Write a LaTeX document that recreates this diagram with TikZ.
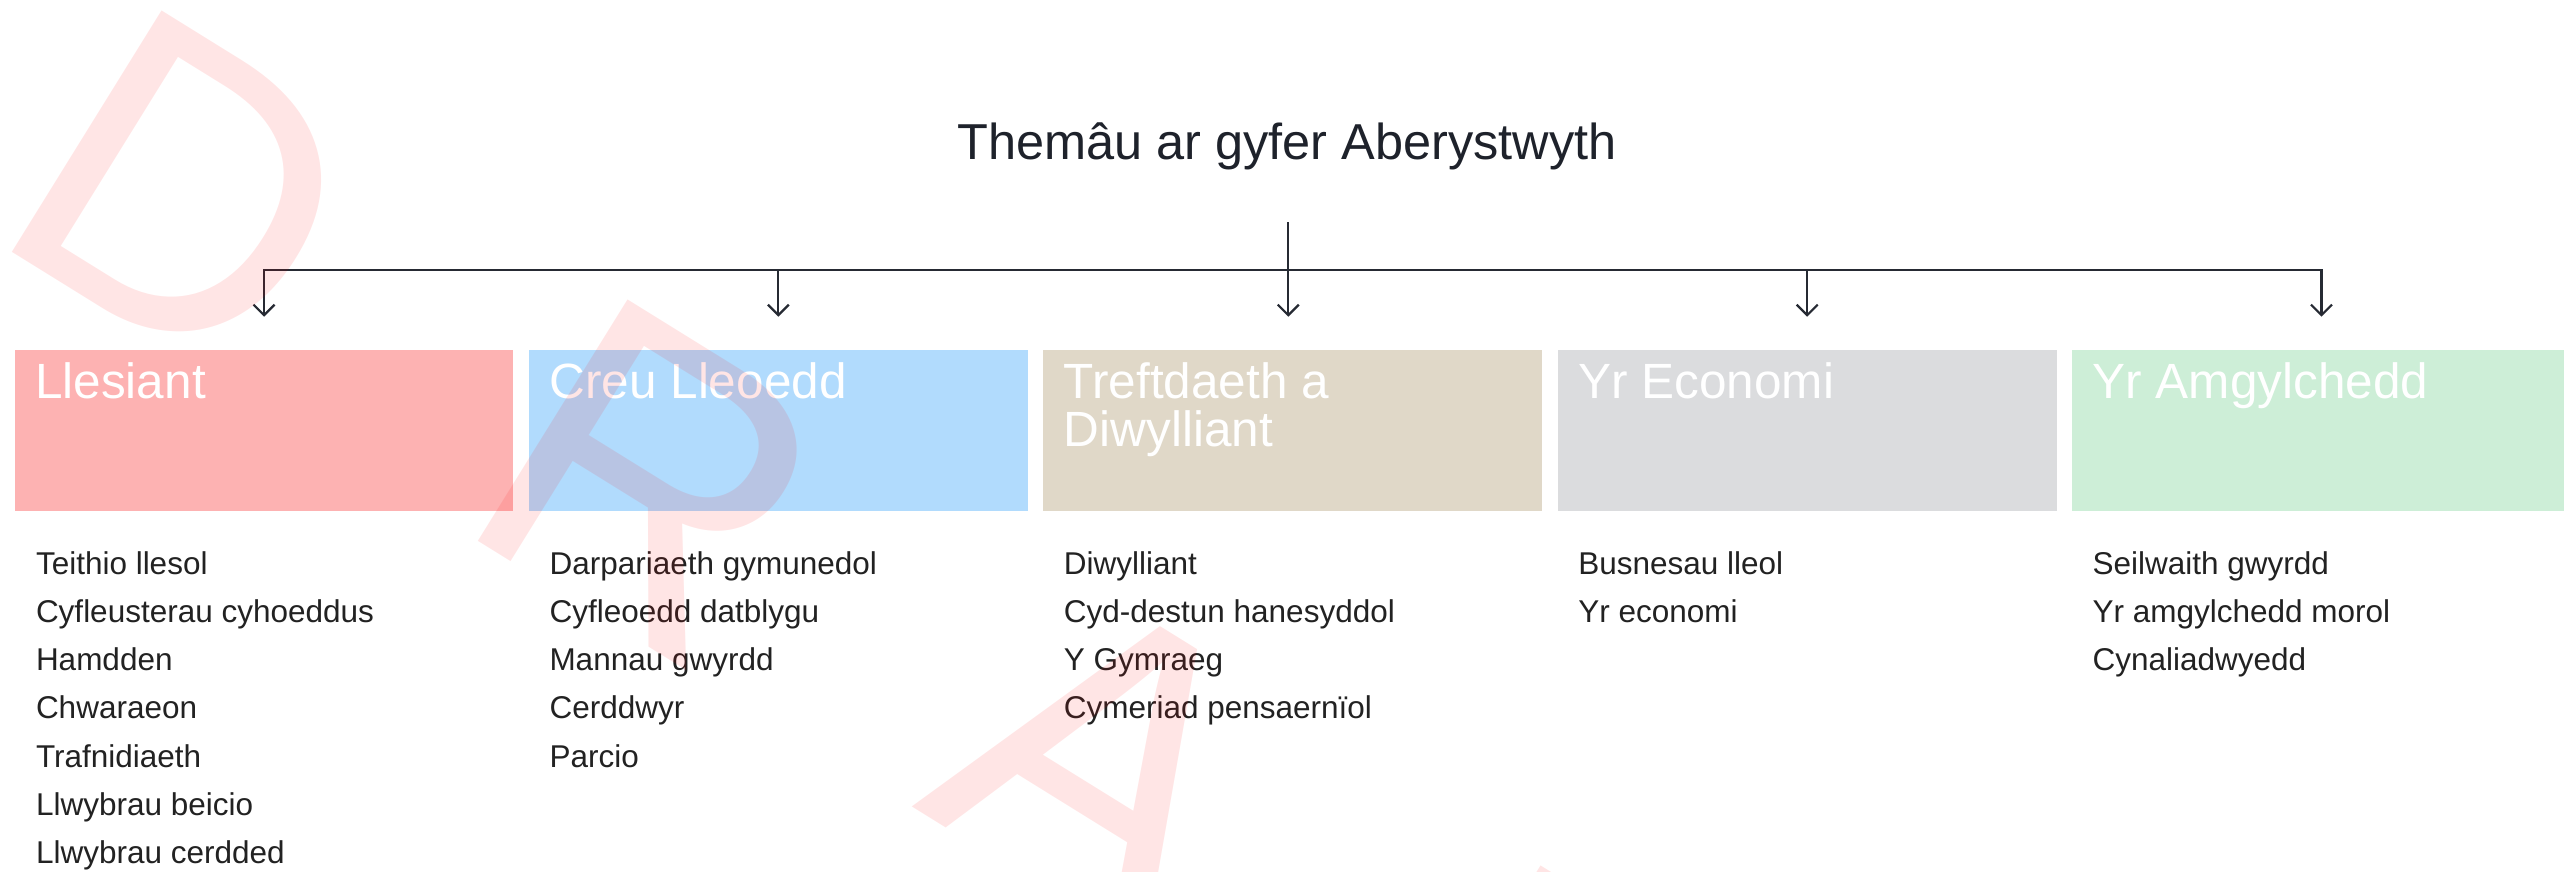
\documentclass[tikz,border=0pt]{standalone}
\usepackage{fontspec}
\setmainfont{Liberation Sans}
\usetikzlibrary{arrows.meta}
\definecolor{cPink}{HTML}{FDB2B2}
\definecolor{cBlue}{HTML}{B1DBFD}
\definecolor{cTan}{HTML}{E0D8C8}
\definecolor{cGrey}{HTML}{DBDCDE}
\definecolor{cGreen}{HTML}{CDEED7}
\definecolor{cTitle}{HTML}{1E222B}
\definecolor{cLine}{HTML}{262A33}
\definecolor{cItem}{HTML}{222222}
\begin{document}
\begin{tikzpicture}[x=1pt,y=-1pt,
  catbox/.style={draw=none, inner sep=0pt, outer sep=0pt, anchor=north west,
    minimum width=498.7pt, minimum height=160.7pt},
  cathead/.style={anchor=base west, inner sep=0pt, outer sep=0pt, text=white,
    align=left, font=\fontsize{49.5}{48.4}\selectfont},
  itemlist/.style={anchor=base west, inner sep=0pt, outer sep=0pt, text=cItem,
    align=left, font=\fontsize{31.5}{48.3}\selectfont},
  titletext/.style={anchor=base, inner sep=0pt, outer sep=0pt, text=cTitle,
    font=\fontsize{50.5}{55}\selectfont},
  conn/.style={draw=cLine, line width=2.2pt},
  connarrow/.style={conn, -{Straight Barb[length=10.5pt,width=21pt]}, shorten >=33.3pt},
  wm/.style={anchor=base west, inner sep=0pt, outer sep=0pt, rotate=-31.8,
    text=red, text opacity=0.1, font=\fontsize{413}{413}\selectfont}
]
\useasboundingbox (0,0) rectangle (2564,872);
\begin{scope}
\clip (0,0) rectangle (2564,872);
\fill[white] (0,0) rectangle (2564,872);

% title
\node[titletext] (title) at (1287,159) {Themâu ar gyfer Aberystwyth};

% category boxes
\node[catbox, fill=cPink]  (b1) at (14.7,350) {};
\node[catbox, fill=cBlue]  (b2) at (529.0,350) {};
\node[catbox, fill=cTan]   (b3) at (1043.4,350) {};
\node[catbox, fill=cGrey]  (b4) at (1557.8,350) {};
\node[catbox, fill=cGreen] (b5) at (2072.1,350) {};

% headers (anchor = baseline of the last line)
\node[cathead] (h1) at (35.2,398.2) {Llesiant};
\node[cathead] (h2) at (549.5,398.2) {Creu Lleoedd};
\node[cathead] (h3) at (1063.9,446.6) {Treftdaeth a\\Diwylliant};
\node[cathead] (h4) at (1578.3,398.2) {Yr Economi};
\node[cathead] (h5) at (2092.6,398.2) {Yr Amgylchedd};

% item lists (anchor = baseline of the last line; first line at 574)
\node[itemlist] (l1) at (36,863.8) {Teithio llesol\\Cyfleusterau cyhoeddus\\Hamdden\\Chwaraeon\\Trafnidiaeth\\Llwybrau beicio\\Llwybrau cerdded};
\node[itemlist] (l2) at (549.5,767.2) {Darpariaeth gymunedol\\Cyfleoedd datblygu\\Mannau gwyrdd\\Cerddwyr\\Parcio};
\node[itemlist] (l3) at (1063.9,718.9) {Diwylliant\\Cyd-destun hanesyddol\\Y Gymraeg\\Cymeriad pensaernïol};
\node[itemlist] (l4) at (1578.3,622.3) {Busnesau lleol\\Yr economi};
\node[itemlist] (l5) at (2092.6,670.6) {Seilwaith gwyrdd\\Yr amgylchedd morol\\Cynaliadwyedd};

% connectors
\coordinate (top) at (1288.3,222.3);
\coordinate (hub) at (1288.3,270);
\draw[conn] (top) -- (hub);
\draw[connarrow] (hub) -| (b1.north);
\draw[connarrow] (hub) -| (b2.north);
\draw[connarrow] (hub) -- (hub |- b3.north);
\draw[connarrow] (hub) -| (b4.north);
\draw[connarrow] (hub) -| (b5.north);

% watermark
\node[wm] (wD) at (-16.5,234.5) {D};
\node[wm] (wR) at (449.5,523.7) {R};
\node[wm] (wA) at (911.5,806.5) {A};
\node[wm] (wF) at (1362.5,1089.5) {F};
\end{scope}
\end{tikzpicture}
\end{document}
